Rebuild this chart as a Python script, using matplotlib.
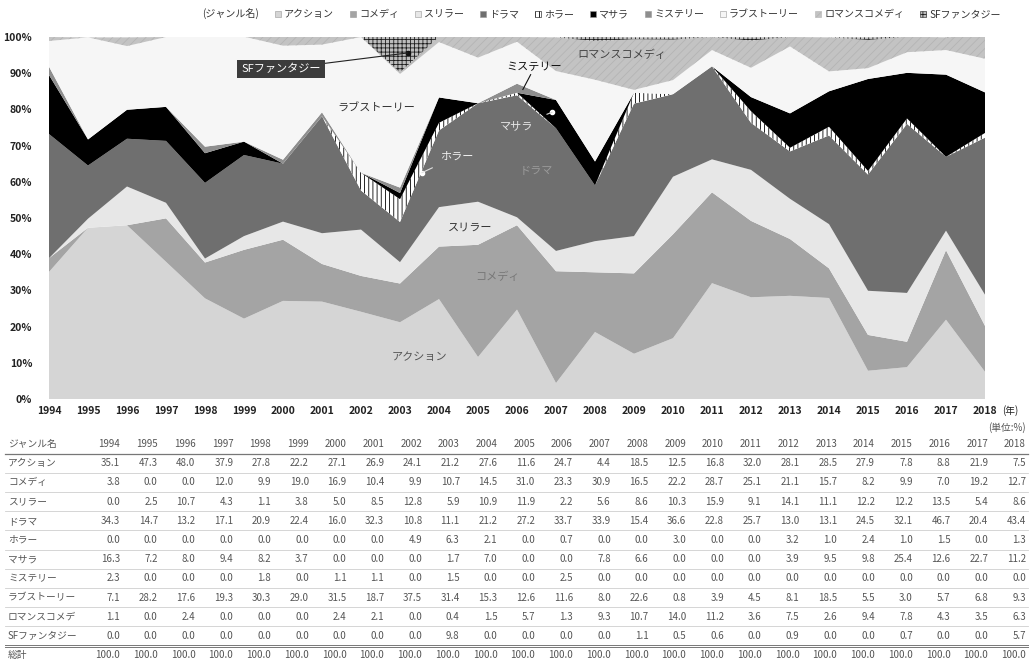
import matplotlib
matplotlib.use('Agg')
import matplotlib.pyplot as plt
from matplotlib.patches import Patch
import numpy as np

plt.rcParams['font.family'] = ['Noto Sans CJK JP', 'DejaVu Sans']
plt.rcParams['hatch.linewidth'] = 0.6

years = list(range(1994, 2019))
genres = ['アクション', 'コメディ', 'スリラー', 'ドラマ', 'ホラー', 'マサラ',
          'ミステリー', 'ラブストーリー', 'ロマンスコメディ', 'SFファンタジー']
row_labels = ['アクション', 'コメディ', 'スリラー', 'ドラマ', 'ホラー', 'マサラ',
              'ミステリー', 'ラブストーリー', 'ロマンスコメデ', 'SFファンタジー']

action = [35.1, 47.3, 48.0, 37.9, 27.8, 22.2, 27.1, 26.9, 24.1, 21.2, 27.6, 11.6, 24.7,
          4.4, 18.5, 12.5, 16.8, 32.0, 28.1, 28.5, 27.9, 7.8, 8.8, 21.9, 7.5]
comedy = [3.8, 0.0, 0.0, 12.0, 9.9, 19.0, 16.9, 10.4, 9.9, 10.7, 14.5, 31.0, 23.3,
          30.9, 16.5, 22.2, 28.7, 25.1, 21.1, 15.7, 8.2, 9.9, 7.0, 19.2, 12.7]
thriller = [0.0, 2.5, 10.7, 4.3, 1.1, 3.8, 5.0, 8.5, 12.8, 5.9, 10.9, 11.9, 2.2,
            5.6, 8.6, 10.3, 15.9, 9.1, 14.1, 11.1, 12.2, 12.2, 13.5, 5.4, 8.6]
drama = [34.3, 14.7, 13.2, 17.1, 20.9, 22.4, 16.0, 32.3, 10.8, 11.1, 21.2, 27.2, 33.7,
         33.9, 15.4, 36.6, 22.8, 25.7, 13.0, 13.1, 24.5, 32.1, 46.7, 20.4, 43.4]
horror = [0.0, 0.0, 0.0, 0.0, 0.0, 0.0, 0.0, 0.0, 4.9, 6.3, 2.1, 0.0, 0.7,
          0.0, 0.0, 3.0, 0.0, 0.0, 3.2, 1.0, 2.4, 1.0, 1.5, 0.0, 1.3]
masala = [16.3, 7.2, 8.0, 9.4, 8.2, 3.7, 0.0, 0.0, 0.0, 1.7, 7.0, 0.0, 0.0,
          7.8, 6.6, 0.0, 0.0, 0.0, 3.9, 9.5, 9.8, 25.4, 12.6, 22.7, 11.2]
mystery = [2.3, 0.0, 0.0, 0.0, 1.8, 0.0, 1.1, 1.1, 0.0, 1.5, 0.0, 0.0, 2.5,
           0.0, 0.0, 0.0, 0.0, 0.0, 0.0, 0.0, 0.0, 0.0, 0.0, 0.0, 0.0]
love = [7.1, 28.2, 17.6, 19.3, 30.3, 29.0, 31.5, 18.7, 37.5, 31.4, 15.3, 12.6, 11.6,
        8.0, 22.6, 0.8, 3.9, 4.5, 8.1, 18.5, 5.5, 3.0, 5.7, 6.8, 9.3]
romcom = [1.1, 0.0, 2.4, 0.0, 0.0, 0.0, 2.4, 2.1, 0.0, 0.4, 1.5, 5.7, 1.3,
          9.3, 10.7, 14.0, 11.2, 3.6, 7.5, 2.6, 9.4, 7.8, 4.3, 3.5, 6.3]
scifi = [0.0, 0.0, 0.0, 0.0, 0.0, 0.0, 0.0, 0.0, 0.0, 9.8, 0.0, 0.0, 0.0,
         0.0, 1.1, 0.5, 0.6, 0.0, 0.9, 0.0, 0.0, 0.7, 0.0, 0.0, 5.7]
# the printed total row (rounded shares do not always add up exactly)
totals = [100.0] * 25
series = [action, comedy, thriller, drama, horror, masala, mystery, love, romcom, scifi]

# grayscale fills like the printed original
faces = ['#d5d5d5', '#a4a4a4', '#e7e7e7', '#6f6f6f', '#ffffff', '#000000',
         '#8e8e8e', '#f6f6f6', '#c3c3c3', '#bdbdbd']
hatches = ['', '', '', '', '||||', '', '', '', '////', '++++']
hcolors = ['#d5d5d5', '#a4a4a4', '#e7e7e7', '#6f6f6f', '#000000', '#000000',
           '#8e8e8e', '#f6f6f6', '#b4b4b4', '#1e1e1e']

fig = plt.figure(figsize=(10.30, 6.64), dpi=100)
ax = fig.add_axes([49/1030, 1-399/664, (985-49)/1030, (399-37)/664])

base = np.zeros(len(years))
for vals, fc, h, hc in zip(series, faces, hatches, hcolors):
    top = base + np.array(vals)
    ax.fill_between(years, base, top, facecolor=fc, hatch=h, edgecolor=hc, linewidth=0)
    base = top

ax.set_xlim(1994, 2018)
ax.set_ylim(0, 100)
ax.set_yticks(range(0, 101, 10))
ax.set_yticklabels([f'{v}%' for v in range(0, 101, 10)], fontsize=7.5, fontweight='bold', color='#222')
ax.set_xticks(years)
ax.set_xticklabels([str(y) for y in years], fontsize=7.5, fontweight='bold', color='#222')
ax.tick_params(axis='both', length=0)
ax.tick_params(axis='y', pad=12)
ax.tick_params(axis='x', pad=5)
for s in ax.spines.values():
    s.set_visible(False)
ax.text(2018.45, -1.8, '(年)', fontsize=7, color='#222', ha='left', va='top')

# in-chart labels
lab = dict(fontsize=8, ha='center', va='center')
ax.text(2003.5, 11.5, 'アクション', color='#555', **lab)
ax.text(2005.5, 33.7, 'コメディ', color='#777', **lab)
ax.text(2004.8, 47.3, 'スリラー', color='#333', **lab)
ax.text(2006.5, 63.0, 'ドラマ', color='#9a9a9a', **lab)
ax.text(2002.4, 80.4, 'ラブストーリー', color='#333', **lab)
ax.text(2008.7, 95.0, 'ロマンスコメディ', color='#444', **lab)
ax.text(2006.45, 91.7, 'ミステリー', color='#111', **lab)
ax.plot([2006.35, 2006.15], [89.6, 85.5], color='#111', lw=0.8)
ax.annotate('ホラー', xy=(2003.56, 62.5), xytext=(2004.45, 67.0), color='#f0f0f0',
            fontsize=8, ha='center', va='center',
            arrowprops=dict(arrowstyle='-', color='#e0e0e0', lw=0.8, shrinkA=6, shrinkB=0))
ax.plot(2003.56, 62.5, 'o', color='white', ms=3)
ax.annotate('マサラ', xy=(2006.9, 79.2), xytext=(2006.0, 75.5), color='#e8e8e8',
            fontsize=8, ha='center', va='center',
            arrowprops=dict(arrowstyle='-', color='#d8d8d8', lw=0.8, shrinkA=8, shrinkB=0))
ax.plot(2006.9, 79.2, 'o', color='white', ms=3)
ax.annotate('SFファンタジー', xy=(2003.2, 95.6), xytext=(1999.95, 91.2), color='white',
            fontsize=8, ha='center', va='center',
            bbox=dict(boxstyle='square,pad=0.35', fc='#3c3c3c', ec='none'),
            arrowprops=dict(arrowstyle='-', color='#222', lw=0.8, shrinkA=0, shrinkB=0))
ax.plot(2003.2, 95.6, 'o', color='#111', ms=3)

# legend across the top
handles = [Patch(facecolor='none', edgecolor='none', label='(ジャンル名)')]
for g, fc, h, hc in zip(genres, faces, hatches, hcolors):
    handles.append(Patch(facecolor=fc, hatch=h, edgecolor=hc if h else '#999', linewidth=0.4, label=g))
fig.legend(handles=handles, loc='center', bbox_to_anchor=(597/1030, 1-14/664), ncol=11,
           frameon=False, fontsize=7.2, handlelength=0.6, handleheight=0.6, handletextpad=0.3,
           columnspacing=1.6, labelcolor='#333')

# data table under the chart
tab = fig.add_axes([0, 0, 1, 1], zorder=-1)
tab.set_xlim(0, 1030)
tab.set_ylim(664, 0)
tab.axis('off')
col_right = np.linspace(120, 1026, len(years))
row_y = 444
step = 19.2
tx = dict(fontsize=7, color='#555', va='center')
tab.text(1026, 428, '(単位:%)', ha='right', **tx)
tab.text(8, row_y, 'ジャンル名', ha='left', **tx)
for x, y in zip(col_right, years):
    tab.text(x, row_y, str(y), ha='right', **tx)
tab.plot([5, 1028], [row_y + step/2, row_y + step/2], color='#777', lw=0.9)
for i, (name, vals) in enumerate(zip(row_labels, series)):
    y = row_y + step * (i + 1)
    tab.text(8, y, name, ha='left', **tx)
    for x, v in zip(col_right, vals):
        tab.text(x, y, f'{v:.1f}', ha='right', **tx)
    if i < len(series) - 1:
        tab.plot([5, 1028], [y + step/2, y + step/2], color='#cfcfcf', lw=0.6)
y = row_y + step * (len(series) + 1)
tab.plot([5, 1028], [y - step/2 - 1, y - step/2 - 1], color='#777', lw=0.7)
tab.plot([5, 1028], [y - step/2 + 1, y - step/2 + 1], color='#777', lw=0.7)
tab.text(8, y, '総計', ha='left', **tx)
for x, v in zip(col_right, totals):
    tab.text(x, y, f'{v:.1f}', ha='right', **tx)

fig.savefig('out.png', dpi=100)
